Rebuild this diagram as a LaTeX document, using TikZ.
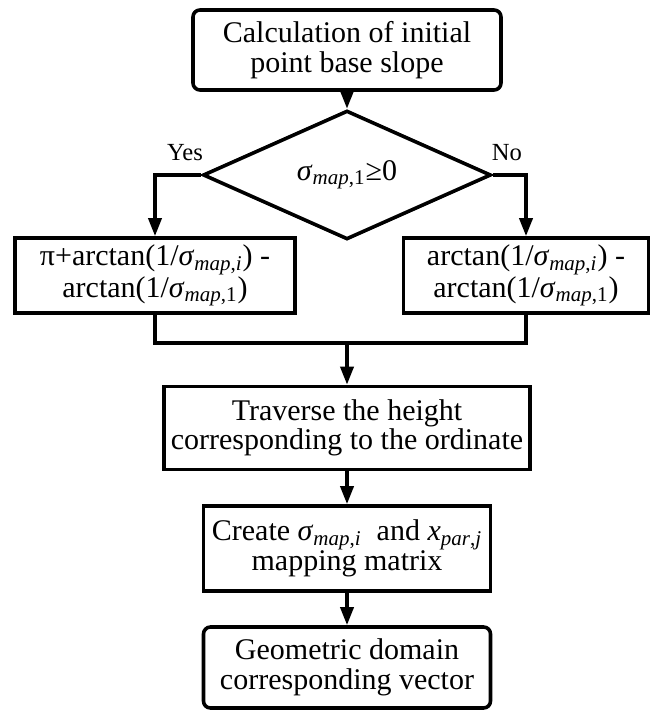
\documentclass[tikz,border=0pt]{standalone}
\usepackage{fontspec}
\setmainfont{Liberation Serif}
\usetikzlibrary{shapes.geometric,arrows.meta}
\newcommand{\sg}[1]{\textit{σ}\textsubscript{#1}}
\begin{document}
\begin{tikzpicture}[x=0.5pt,y=-0.5pt,
  font=\fontsize{15}{14.8}\selectfont,
  box/.style={draw,line width=1.8pt,rectangle,inner sep=0pt,align=center},
  rbox/.style={box,rounded corners=3.5pt},
  arr/.style={line width=1.8pt,-{Triangle[length=9pt,width=6.5pt]}},
  ln/.style={line width=1.8pt},
  lbl/.style={font=\fontsize{12.3}{13}\selectfont,inner sep=0pt}]
\useasboundingbox (0,0) rectangle (651,710);
\node[rbox,minimum width=154pt,minimum height=40pt] (top) at (347,50) {Calculation of initial\\point base slope};
\node[box,diamond,minimum width=144pt,minimum height=47pt,line join=miter] (dia) at (347,175) {\sg{\textit{map},1}≥0};
\node[box,minimum width=140pt,minimum height=37.5pt] (lb) at (155,275.5) {π+arctan(1/\sg{\textit{map},\textit{i}}) -\\arctan(1/\sg{\textit{map},1})};
\node[box,minimum width=122.5pt,minimum height=37.5pt] (rb) at (526,275.5) {arctan(1/\sg{\textit{map},\textit{i}}) -\\arctan(1/\sg{\textit{map},1})};
\node[box,minimum width=183pt,minimum height=41.5pt] (tr) at (347,428) {Traverse the height\\corresponding to the ordinate};
\node[box,minimum width=143.5pt,minimum height=42.5pt] (cr) at (347,548.5) {Create \sg{\textit{map},\textit{i}}\ \ and \textit{x}\textsubscript{\textit{par},\textit{j}}\\mapping matrix};
\node[rbox,minimum width=143.5pt,minimum height=40.5pt] (bt) at (347,667.5) {Geometric domain\\corresponding vector};
\node[lbl] (yes) at (185,153) {Yes};
\node[lbl] (no) at (507,153) {No};
\coordinate (jn) at (347,343);
\draw[arr] (top) -- (dia);
\draw[arr] (dia.west) -| (lb.north);
\draw[arr] (dia.east) -| (rb.north);
\draw[ln] (lb.south) |- (jn) -| (rb.south);
\draw[arr] (jn) -- (tr.north);
\draw[arr] (tr) -- (cr);
\draw[arr] (cr) -- (bt);
\end{tikzpicture}
\end{document}
